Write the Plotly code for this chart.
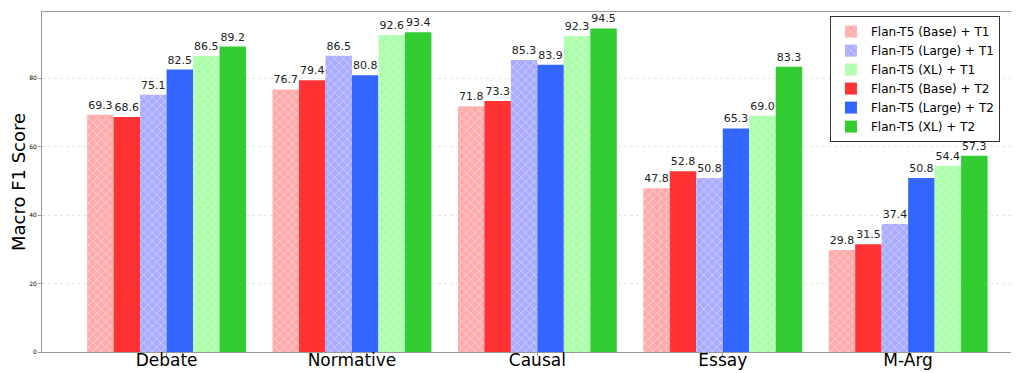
import plotly.graph_objects as go

categories = ["Debate", "Normative", "Causal", "Essay", "M-Arg"]
series_names = ["Flan-T5 (Base) + T1", "Flan-T5 (Base) + T2",
                "Flan-T5 (Large) + T1", "Flan-T5 (Large) + T2",
                "Flan-T5 (XL) + T1", "Flan-T5 (XL) + T2"]
base_t1 = [69.3, 76.7, 71.8, 47.8, 29.8]
base_t2 = [68.6, 79.4, 73.3, 52.8, 31.5]
large_t1 = [75.1, 86.5, 85.3, 50.8, 37.4]
large_t2 = [82.5, 80.8, 83.9, 65.3, 50.8]
xl_t1 = [86.5, 92.6, 92.3, 69.0, 54.4]
xl_t2 = [89.2, 93.4, 94.5, 83.3, 57.3]
values = [base_t1, base_t2, large_t1, large_t2, xl_t1, xl_t2]
colors = ["#ffaaaa", "#ff3333", "#aaaaff", "#3366ff", "#aaffaa", "#33cc33"]
hatched = [True, False, True, False, True, False]
legend_ranks = [1, 4, 2, 5, 3, 6]

FONT = "DejaVu Sans"
fig = go.Figure()
for name, vals, col, h, rk in zip(series_names, values, colors, hatched, legend_ranks):
    marker = dict(color=col, line=dict(width=0))
    if h:
        marker["pattern"] = dict(shape="x", fgcolor="white", fillmode="overlay",
                                 size=6, solidity=0.25)
    fig.add_trace(go.Bar(
        x=categories, y=vals, name=name, marker=marker, legendrank=rk,
        text=[f"{v:.1f}" for v in vals], textposition="outside",
        textfont=dict(family=FONT, size=11, color="#222222"),
        cliponaxis=False,
    ))

# page body has an 8px default margin, so the figure is sized to fit the window
fig.update_layout(
    width=1011, height=365,
    margin=dict(l=34, r=0, t=4, b=21, autoexpand=False),
    barmode="group", bargap=0.143, bargroupgap=0,
    plot_bgcolor="white", paper_bgcolor="white",
    font=dict(family=FONT, color="black"),
    legend=dict(x=0.9805, y=0.988, xanchor="right", yanchor="top",
                bgcolor="white", bordercolor="#333333", borderwidth=1,
                font=dict(family=FONT, size=12), tracegroupgap=0,
                itemwidth=30),
    xaxis=dict(range=[-0.672, 4.598], showline=True, linecolor="#999999",
               linewidth=1, mirror=True, ticks="outside", ticklen=3,
               tickcolor="#999999", tickfont=dict(size=17, family=FONT),
               showgrid=False, automargin=False, ticklabelstandoff=-10),
    yaxis=dict(range=[0, 99.3], showline=True, linecolor="#999999",
               linewidth=1, ticks="outside", ticklen=3, tickcolor="#999999",
               tickvals=[0, 20, 40, 60, 80], tickfont=dict(size=6, family=FONT),
               showgrid=True, gridcolor="#e6e6e6", griddash="dot",
               zeroline=False, automargin=False,
               title=dict(text="Macro F1 Score", font=dict(size=18, family=FONT),
                          standoff=9)),
)
fig.write_html("out.html")
